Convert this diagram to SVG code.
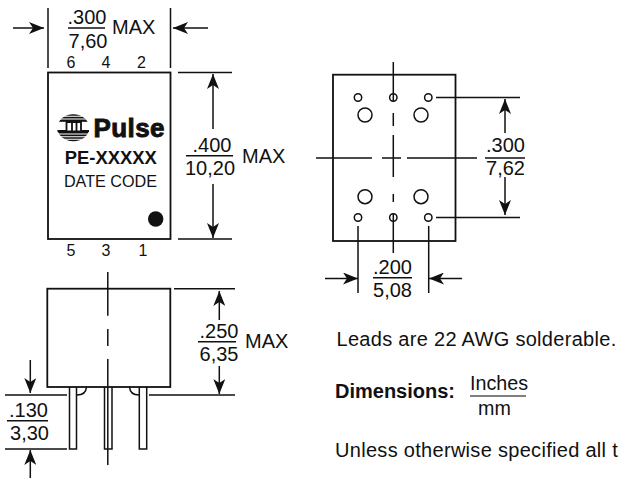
<svg xmlns="http://www.w3.org/2000/svg" width="619" height="479" viewBox="0 0 619 479">
<style>
text{font-family:"Liberation Sans",Arial,sans-serif;fill:#111}
.d{font-size:20px;text-anchor:middle}
.m{font-size:20px}
.p{font-size:16px;text-anchor:middle}
.t{font-size:20px;letter-spacing:.3px}
.l{stroke:#111;stroke-width:1.5;fill:none}
.b{stroke:#111;stroke-width:1.8;fill:none}
.h{stroke:#111;stroke-width:1.5;fill:#fff}
.a{stroke:#111;stroke-width:1.5;fill:none;marker-end:url(#ah)}
</style>
<defs>
<marker id="ah" viewBox="0 0 15 12" refX="15" refY="6" markerWidth="15" markerHeight="12" markerUnits="userSpaceOnUse" orient="auto"><path d="M0 0L15 6L0 12L4 6Z" fill="#111"/></marker>
</defs>
<g id="connectors">
<path class="l" d="M48 8V68M170.500 8V68"/>
<path class="a" d="M13 28H44"/>
<path class="a" d="M208 28H173"/>
<path class="l" d="M178 72.500H232M178 239H232"/>
<path class="a" d="M213 129V74"/>
<path class="a" d="M213 184V238"/>
<path class="l" d="M316 158H372M382 158H401M407 158H477"/>
<path class="l" d="M436 97.500H520M436 217.500H520M358 226V293M428.700 226V293"/>
<path class="a" d="M505 133V99"/>
<path class="a" d="M505 177V215"/>
<path class="a" d="M325 278.500H358"/>
<path class="a" d="M462 278.500H429"/>
<path class="l" d="M174 288.700H235M149 395H235M5 395H67M5 449H67"/>
<path class="a" d="M219.300 320V291"/>
<path class="a" d="M219.300 366V394"/>
<path class="a" d="M30.300 360V393"/>
<path class="a" d="M30.300 478V450"/>
</g>
<g id="dim-width">
<text class="d" x="87" y="24">.300</text>
<path class="l" d="M68 28H105"/>
<text class="d" x="88" y="47.500">7,60</text>
<text class="m" x="112" y="33.500">MAX</text>
</g>
<g id="top-view">
<rect class="b" x="48" y="72.500" width="122.500" height="166.500"/>
<text class="p" x="71" y="68">6</text><text class="p" x="106" y="68">4</text><text class="p" x="141.500" y="68">2</text>
<text class="p" x="71" y="256">5</text><text class="p" x="106" y="256">3</text><text class="p" x="143" y="256">1</text>
<ellipse cx="73.300" cy="127.700" rx="16" ry="13.500" fill="#111"/>
<path d="M56 116.300H91M56 119H91M56 134H91M56 136.700H91M56 139.200H91" stroke="#fff" stroke-width="1.100"/>
<rect x="56" y="121.800" width="35" height="8.700" fill="#fff"/>
<path d="M57.500 131H66.500V122H81V131H89M72 122V131M76.500 122V131" stroke="#111" stroke-width="1.800" fill="none"/>
<text x="93.500" y="137" font-size="26" font-weight="700" letter-spacing=".4" stroke="#111" stroke-width=".9">Pulse</text>
<text x="110.800" y="163.500" font-size="18.400" font-weight="700" text-anchor="middle">PE-XXXXX</text>
<text x="110.500" y="187" font-size="16.200" text-anchor="middle">DATE CODE</text>
<circle cx="155.700" cy="219" r="7.700" fill="#111"/>
</g>
<g id="dim-height">
<text class="d" x="212" y="152">.400</text>
<path class="l" d="M186 155.700H233"/>
<text class="d" x="210" y="175">10,20</text>
<text class="m" x="242" y="162.700">MAX</text>
</g>
<g id="bottom-view">
<rect class="b" x="333" y="74.700" width="122.500" height="166.300"/>
<circle class="h" cx="358" cy="97.500" r="3.700"/><circle class="h" cx="393.300" cy="97.500" r="3.700"/><circle class="h" cx="428.300" cy="97.500" r="3.700"/>
<circle class="h" cx="358" cy="217.500" r="3.700"/><circle class="h" cx="393.300" cy="217.500" r="3.700"/><circle class="h" cx="428.300" cy="217.500" r="3.700"/>
<circle class="h" cx="365" cy="115" r="7"/><circle class="h" cx="421" cy="115" r="7"/>
<circle class="h" cx="365" cy="196.700" r="7"/><circle class="h" cx="421" cy="196.700" r="7"/>
<path class="l" d="M393.300 62V102M393.300 113V126M393.300 135V177M393.300 194V202M393.300 213V253"/>
</g>
<g id="dim-300">
<text class="d" x="505.500" y="151.700">.300</text>
<path class="l" d="M485 158H525"/>
<text class="d" x="505.500" y="175">7,62</text>
</g>
<g id="dim-200">
<text class="d" x="392.500" y="274">.200</text>
<path class="l" d="M373 277.700H412"/>
<text class="d" x="392.500" y="296.700">5,08</text>
</g>
<g id="side-view">
<rect class="b" x="47.300" y="288.700" width="123" height="98.300"/>
<path class="l" d="M69.500 387V449H76.500V387M104.500 387V449H112V387M139.300 387V449H146.700V387M77 395Q86 395 86.500 387M129.500 387Q130 395 139 395"/>
<path class="l" d="M107.800 272V315.700M107.800 329V346M107.800 359V465"/>
</g>
<g id="dim-250">
<text class="d" x="219" y="338">.250</text>
<path class="l" d="M198 341.700H236"/>
<text class="d" x="219" y="360.700">6,35</text>
<text class="m" x="245" y="347.700">MAX</text>
</g>
<g id="dim-130">
<text class="d" x="28.500" y="416.700">.130</text>
<path class="l" d="M7 420.700H48"/>
<text class="d" x="29.500" y="440">3,30</text>
</g>
<g id="notes">
<text class="t" x="336.500" y="346">Leads are 22 AWG solderable.</text>
<text x="335" y="398" font-size="20" font-weight="700">Dimensions:</text>
<text x="499" y="390" font-size="19.700" text-anchor="middle">Inches</text>
<path d="M470 396H526" stroke="#555" stroke-width="1.500"/>
<text x="494.500" y="415" font-size="19.700" text-anchor="middle">mm</text>
<text class="t" x="335" y="456.500">Unless otherwise specified all t</text>
</g>
</svg>
